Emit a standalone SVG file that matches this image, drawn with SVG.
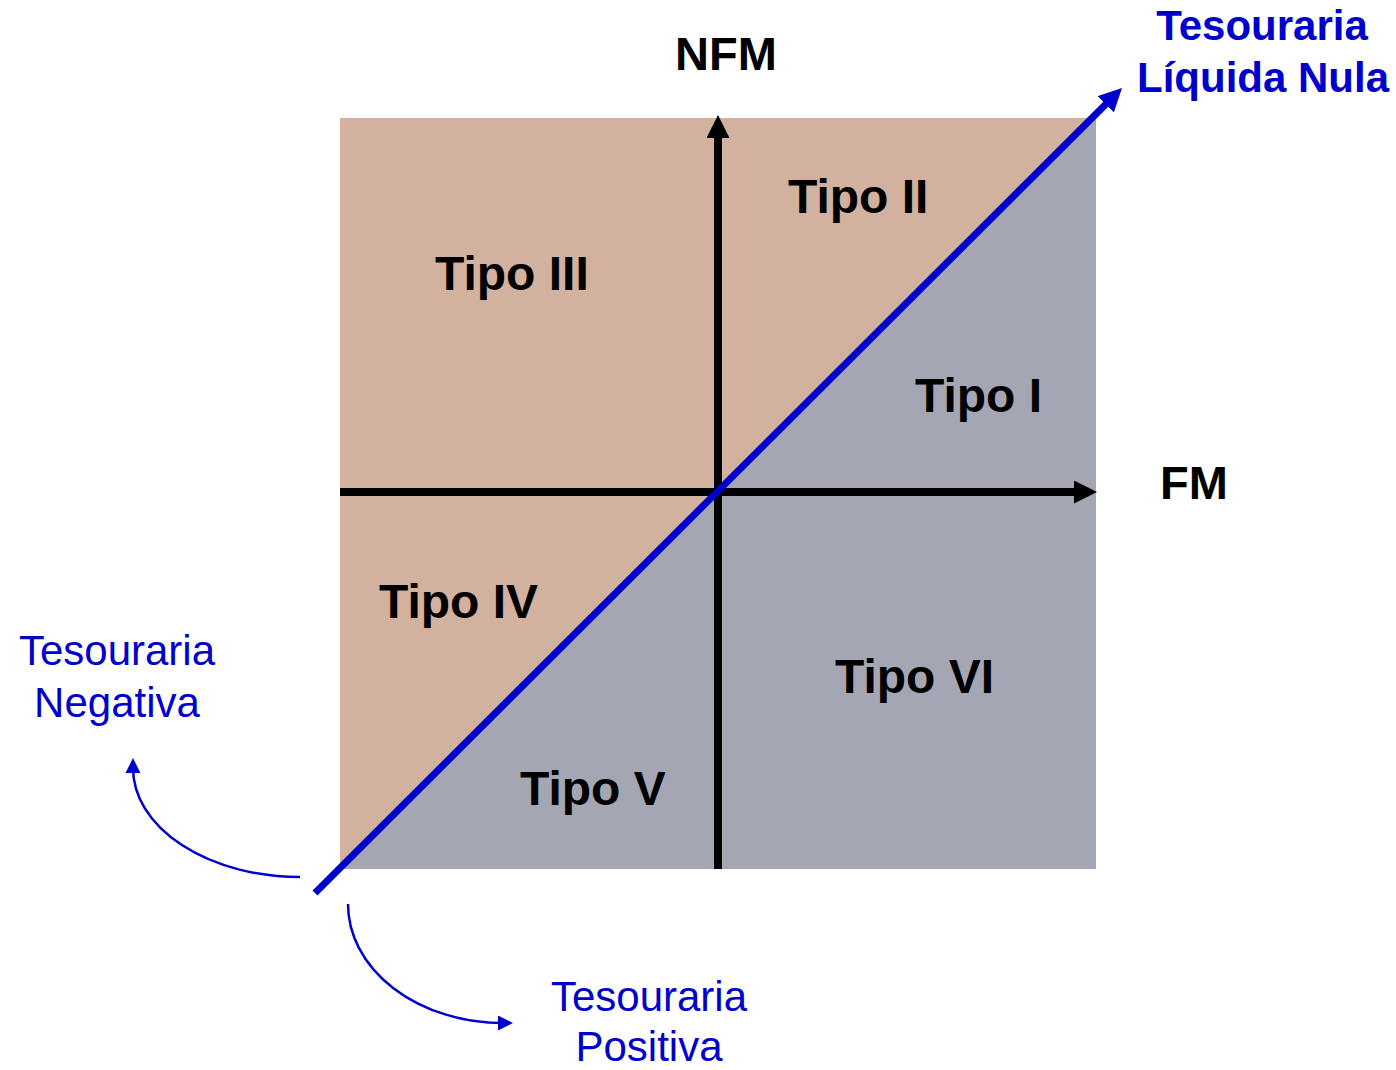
<svg xmlns="http://www.w3.org/2000/svg" width="1396" height="1070" viewBox="0 0 1396 1070">
<style>
.lbl{font-family:"Liberation Sans",Arial,sans-serif;font-weight:bold;fill:#000}
.tipo{font-size:48px}
.axis{font-size:47px}
.blue{font-family:"Liberation Sans",Arial,sans-serif;fill:#0000CC;font-size:42px;text-anchor:middle}
.bb{font-weight:bold;font-size:42px}
.ax{stroke:#000;stroke-width:8;fill:none}
.thin{stroke:#0000CC;stroke-width:2.5;fill:none}
</style>
<defs>
<marker id="ka" markerUnits="userSpaceOnUse" markerWidth="23" markerHeight="23" refX="10" refY="11.5" orient="auto" viewBox="0 0 23 23"><path d="M0,0 L23,11.5 L0,23 z" fill="#000"/></marker>
<marker id="ba" markerUnits="userSpaceOnUse" markerWidth="23" markerHeight="23" refX="10" refY="11.5" orient="auto" viewBox="0 0 23 23"><path d="M0,0 L23,11.5 L0,23 z" fill="#0000CC"/></marker>
<marker id="sa" markerUnits="userSpaceOnUse" markerWidth="15" markerHeight="15" refX="5" refY="7.5" orient="auto" viewBox="0 0 15 15"><path d="M0,0 L15,7.5 L0,15 z" fill="#0000CC"/></marker>
</defs>
<g id="regions">
<rect x="340" y="118" width="756" height="751" fill="#D2B29E"/>
<polygon points="340,869 1096,118 1096,869" fill="#A4A7B3"/>
</g>
<g id="connectors">
<line class="ax" x1="718" y1="869" x2="718" y2="128" marker-end="url(#ka)"/>
<line class="ax" x1="340" y1="492" x2="1084" y2="492" marker-end="url(#ka)"/>
<line x1="315" y1="893" x2="1112.8" y2="97.2" stroke="#0000CC" stroke-width="7" marker-end="url(#ba)"/>
<path class="thin" d="M300,877 A167,109 0 0 1 133,768" marker-end="url(#sa)"/>
<path class="thin" d="M348,904 A155,119 0 0 0 503,1023" marker-end="url(#sa)"/>
</g>
<g id="nfm"><text class="lbl axis" x="726" y="70" text-anchor="middle">NFM</text></g>
<g id="fm"><text class="lbl axis" x="1194" y="499" text-anchor="middle">FM</text></g>
<g id="tipo-i"><text class="lbl tipo" x="915" y="412">Tipo I</text></g>
<g id="tipo-ii"><text class="lbl tipo" x="788" y="213">Tipo II</text></g>
<g id="tipo-iii"><text class="lbl tipo" x="435" y="290">Tipo III</text></g>
<g id="tipo-iv"><text class="lbl tipo" x="379" y="618">Tipo IV</text></g>
<g id="tipo-v"><text class="lbl tipo" x="520" y="805">Tipo V</text></g>
<g id="tipo-vi"><text class="lbl tipo" x="835" y="693">Tipo VI</text></g>
<g id="tesouraria-nula"><text class="blue bb" x="1262" y="40">Tesouraria</text><text class="blue bb" x="1263" y="92">Líquida Nula</text></g>
<g id="tesouraria-negativa"><text class="blue" x="117" y="665">Tesouraria</text><text class="blue" x="117" y="717">Negativa</text></g>
<g id="tesouraria-positiva"><text class="blue" x="649" y="1011">Tesouraria</text><text class="blue" x="649" y="1061">Positiva</text></g>
</svg>
